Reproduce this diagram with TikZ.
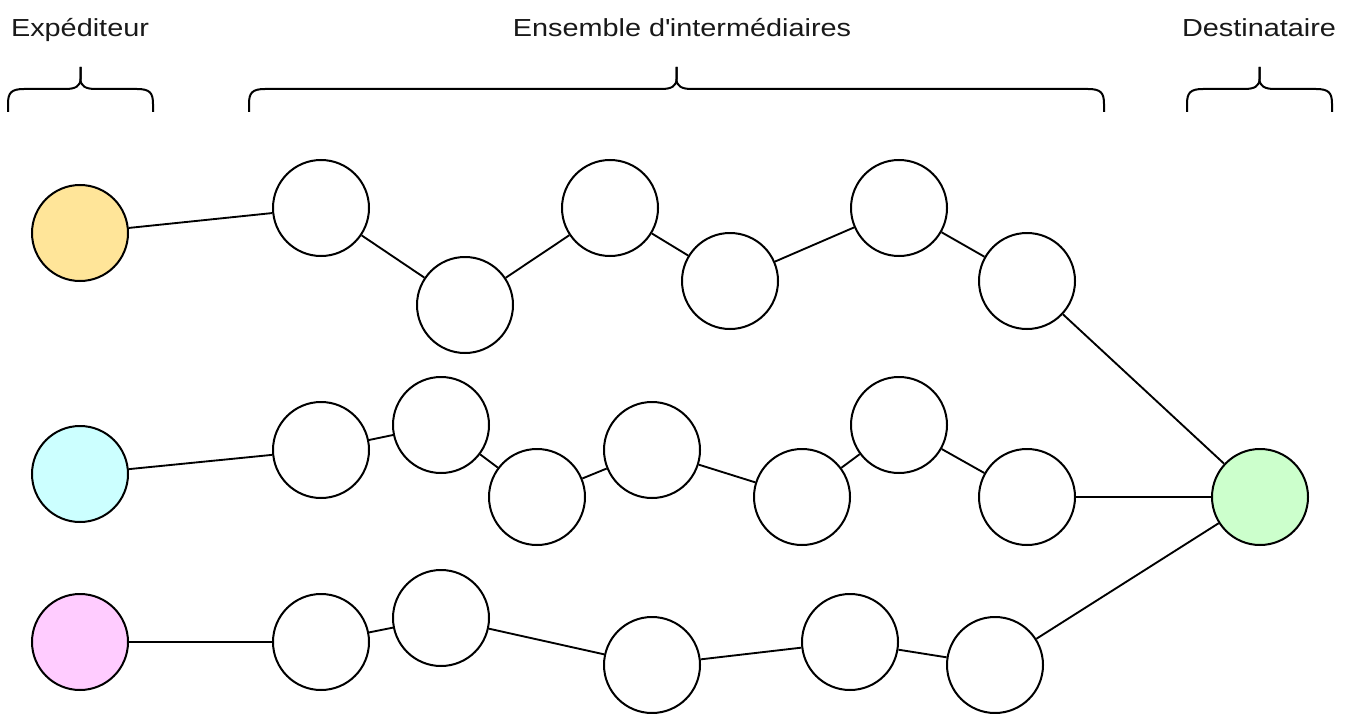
\documentclass[tikz,border=0pt]{standalone}
\usepackage{fontspec}
\setmainfont{Liberation Sans}[FakeStretch=1.17]
\usetikzlibrary{calc}
\definecolor{ExpOrange}{RGB}{255,229,153}
\definecolor{ExpCyan}{RGB}{204,255,255}
\definecolor{ExpPink}{RGB}{255,204,255}
\definecolor{DestGreen}{RGB}{204,255,204}
\definecolor{TxtClr}{RGB}{25,25,25}

\tikzset{
  relais/.style={circle,draw=black,line width=1.5pt,minimum size=72pt,inner sep=0pt,fill=white},
  titre/.style={font=\fontsize{18.5pt}{22pt}\selectfont,text=TxtClr,anchor=base,inner sep=0pt},
  lien/.style={line width=1.4pt},
  accolade/.style={line width=1.5pt,line join=round}
}

% accolade horizontale entre x=#1 et x=#2
\newcommand{\Accolade}[2]{%
  \pgfmathsetmacro{\xm}{(#1+#2)/2}
  \draw[accolade] (#1,112) -- (#1,104) .. controls (#1,93) and ({#1+3},89) .. ({#1+16},89)
    -- ({\xm-15},89) .. controls ({\xm-5},89) and (\xm,86) .. (\xm,79) -- (\xm,67);
  \draw[accolade] (\xm,67) -- (\xm,79) .. controls (\xm,86) and ({\xm+5},89) .. ({\xm+15},89)
    -- ({#2-16},89) .. controls ({#2-3},89) and (#2,93) .. (#2,104) -- (#2,112);
}

\begin{document}
\begin{tikzpicture}[x=0.75pt,y=-0.75pt]
\useasboundingbox (0,0) rectangle (1351,713);

% titres
\node[titre] (texp) at (80,37) {Expéditeur};
\node[titre] (tint) at (682,37) {Ensemble d\textquotesingle intermédiaires};
\node[titre] (tdest) at (1259,37) {Destinataire};

\Accolade{8}{153}
\Accolade{249}{1104}
\Accolade{1187}{1332}

% expediteurs et destinataire
\node[relais,fill=ExpOrange] (expA) at (80,233) {};
\node[relais,fill=ExpCyan] (expB) at (80,474) {};
\node[relais,fill=ExpPink] (expC) at (80,642) {};
\node[relais,fill=DestGreen] (dest) at (1260,497) {};

% premier chemin
\node[relais] (a1) at (321,208) {};
\node[relais] (a2) at (465,305) {};
\node[relais] (a3) at (610,208) {};
\node[relais] (a4) at (730,281) {};
\node[relais] (a5) at (899,208) {};
\node[relais] (a6) at (1027,281) {};

% deuxieme chemin
\node[relais] (b1) at (321,450) {};
\node[relais] (b2) at (441,425) {};
\node[relais] (b3) at (537,497) {};
\node[relais] (b4) at (652,450) {};
\node[relais] (b5) at (802,497) {};
\node[relais] (b6) at (899,425) {};
\node[relais] (b7) at (1027,497) {};

% troisieme chemin
\node[relais] (c1) at (321,642) {};
\node[relais] (c2) at (441,618) {};
\node[relais] (c3) at (652,665) {};
\node[relais] (c4) at (850,642) {};
\node[relais] (c5) at (995,665) {};

\draw[lien] (expA) -- (a1) -- (a2) -- (a3) -- (a4) -- (a5) -- (a6) -- (dest);
\draw[lien] (expB) -- (b1) -- (b2) -- (b3) -- (b4) -- (b5) -- (b6) -- (b7) -- (dest);
\draw[lien] (expC) -- (c1) -- (c2) -- (c3) -- (c4) -- (c5) -- (dest);

\end{tikzpicture}
\end{document}
